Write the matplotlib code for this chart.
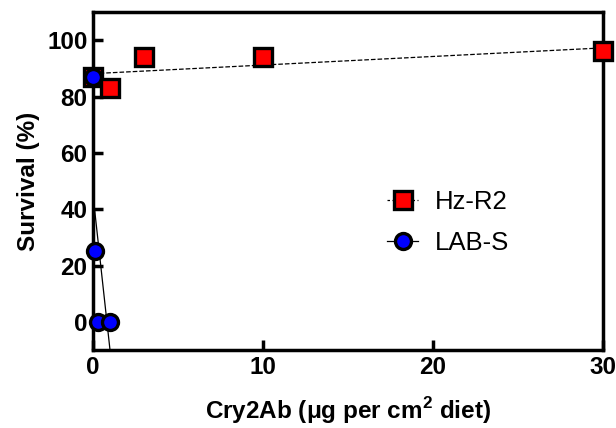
import numpy as np
import matplotlib
matplotlib.use('Agg')
import matplotlib.pyplot as plt

plt.rcParams['font.family'] = ['Liberation Sans', 'DejaVu Sans']

# Hz-R2
dose_r = [0, 1, 3, 10, 30]
surv_r = [87, 83, 94, 94, 96]
# LAB-S
dose_s = [0, 0.1, 0.3, 1]
surv_s = [87, 25, 0, 0]

# lineare fits
fit_r = np.polyfit(dose_r, surv_r, 1)
fit_s = [-55, 45]

fig = plt.figure(figsize=(6.16, 4.28), dpi=100)
ax = fig.add_axes([0.151, 0.182, 0.828, 0.790])

xr = np.array([0, 30])
ax.plot(xr, np.polyval(fit_r, xr), 'k--', lw=0.9, zorder=2)
xs = np.array([0, 1.2])
ax.plot(xs, np.polyval(fit_s, xs), 'k-', lw=0.9, zorder=2)

ax.plot(dose_r, surv_r, 's', ms=12.5, mfc='red', mec='black', mew=2.4,
        ls='none', clip_on=False, zorder=3)
ax.plot(dose_s, surv_s, 'o', ms=11.5, mfc='blue', mec='black', mew=2.4,
        ls='none', clip_on=False, zorder=4)

# legenda
h1, = ax.plot([], [], 's', ms=12.5, mfc='red', mec='black', mew=2.4, ls=(0, (2, 2)), color='black', lw=0.9)
h2, = ax.plot([], [], 'o', ms=11.5, mfc='blue', mec='black', mew=2.4, ls='-', color='black', lw=0.9)
ax.legend([h1, h2], ['Hz-R2', 'LAB-S'], loc='center left', bbox_to_anchor=(0.532, 0.377),
          frameon=False, fontsize=18.5, handlelength=1.2, labelspacing=0.65, handletextpad=0.65)

ax.set_xlim(0, 30)
ax.set_ylim(-10, 110)
ax.set_xticks([0, 10, 20, 30])
ax.set_yticks([0, 20, 40, 60, 80, 100])
for s in ax.spines.values():
    s.set_linewidth(2.5)
ax.tick_params(direction='in', width=2.5, length=7, labelsize=17.5, pad=4)
for lab in ax.get_xticklabels() + ax.get_yticklabels():
    lab.set_fontweight('bold')

ax.set_xlabel(r'Cry2Ab ($\mathregular{\mu}$g per cm$^{\mathregular{2}}$ diet)',
              fontsize=17.5, fontweight='bold', labelpad=12)
ax.set_ylabel('Survival (%)', fontsize=17.5, fontweight='bold', labelpad=5)

plt.savefig('out.png', dpi=100)
